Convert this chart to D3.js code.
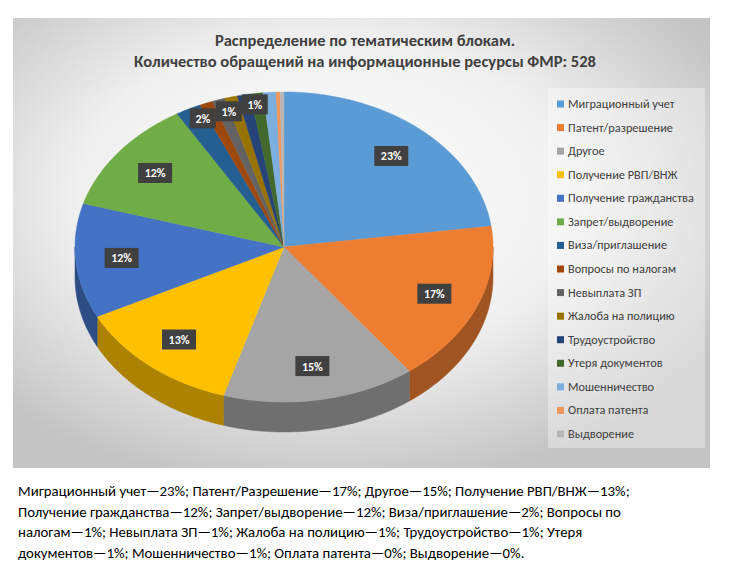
<!DOCTYPE html>
<html><head><meta charset="utf-8">
<script src="https://cdn.jsdelivr.net/npm/d3@7"></script>
<style>body{margin:0;background:#fff;font-family:Calibri,Carlito,"Open Sans",sans-serif}</style>
</head><body><svg id="c" width="730" height="573"></svg>
<script>
var categories = ['Миграционный учет','Патент/разрешение','Другое','Получение РВП/ВНЖ','Получение гражданства','Запрет/выдворение','Виза/приглашение','Вопросы по налогам','Невыплата ЗП','Жалоба на полицию','Трудоустройство','Утеря документов','Мошенничество','Оплата патента','Выдворение'];
var values = [23, 17, 15, 13, 12, 12, 2, 1, 1, 1, 1, 1, 1, 0.3, 0.3];
var shownLabels = ['23%','17%','15%','13%','12%','12%','2%','1%','1%'];
var colors = ['#5B9BD5','#ED7D31','#A5A5A5','#FFC000','#4472C4','#70AD47','#255E91','#9E480E','#636363','#997300','#264478','#43682B','#7CAFDD','#F1975A','#B7B7B7'];
var footer = ['Миграционный учет—23%; Патент/Разрешение—17%; Другое—15%; Получение РВП/ВНЖ—13%;',
 'Получение гражданства—12%; Запрет/выдворение—12%; Виза/приглашение—2%; Вопросы по',
 'налогам—1%; Невыплата ЗП—1%; Жалоба на полицию—1%; Трудоустройство—1%; Утеря',
 'документов—1%; Мошенничество—1%; Оплата патента—0%; Выдворение—0%.'];

var svg = d3.select('#c');
var defs = svg.append('defs');
var g = defs.append('radialGradient').attr('id','bg').attr('cx','45%').attr('cy','40%').attr('r','65%');
g.append('stop').attr('offset','0%').attr('stop-color','#ffffff');
g.append('stop').attr('offset','55%').attr('stop-color','#f0f0f0');
g.append('stop').attr('offset','100%').attr('stop-color','#c4c4c4');
svg.append('rect').attr('x',13).attr('y',18).attr('width',697).attr('height',450).attr('fill','url(#bg)');

svg.append('text').attr('x',365).attr('y',46).attr('text-anchor','middle').attr('font-size',16.5).attr('font-weight','bold').attr('fill','#404040').text('Распределение по тематическим блокам.');
svg.append('text').attr('x',365).attr('y',67).attr('text-anchor','middle').attr('font-size',16.5).attr('font-weight','bold').attr('fill','#404040').text('Количество обращений на информационные ресурсы ФМР: 528');

// 3D pie
var cx = 284, cy = 247, rx = 209, ry = 155, depth = 30;
var arcs = d3.pie().sort(null).startAngle(0).endAngle(2 * Math.PI)(values);
function pt(a, r) { return [cx + rx * r * Math.sin(a), cy - ry * r * Math.cos(a)]; }
function arcPts(a0, a1, r, dy) {
  var n = Math.max(2, Math.ceil((a1 - a0) / 0.02)), p = [];
  for (var i = 0; i <= n; i++) { var q = pt(a0 + (a1 - a0) * i / n, r); p.push([q[0], q[1] + dy]); }
  return p;
}
var line = d3.line();
var pie = svg.append('g');
// side walls (front half only)
arcs.forEach(function(d, i) {
  var a0 = Math.max(d.startAngle, Math.PI / 2), a1 = Math.min(d.endAngle, 3 * Math.PI / 2);
  if (a1 <= a0) return;
  var top = arcPts(a0, a1, 1, 0), bot = arcPts(a0, a1, 1, depth).reverse();
  pie.append('path').attr('d', line(top.concat(bot)) + 'Z')
    .attr('fill', d3.color(colors[i]).darker(1.1)).attr('stroke', d3.color(colors[i]).darker(1.1)).attr('stroke-width', 0.5);
});
// tops
arcs.forEach(function(d, i) {
  var p = [[cx, cy]].concat(arcPts(d.startAngle, d.endAngle, 1, 0));
  pie.append('path').attr('d', line(p) + 'Z').attr('fill', colors[i]).attr('stroke', colors[i]).attr('stroke-width', 0.5);
});
// labels; the small top slices get staggered boxes
var prevX = -Infinity;
arcs.forEach(function(d, i) {
  if (i >= shownLabels.length) return;
  var mid = (d.startAngle + d.endAngle) / 2, q, w = 34;
  if (values[i] < 5) {
    w = 26;
    q = pt(mid, 0.85);
    q[0] = Math.max(q[0], prevX + 26);
    q[1] = cy - ry * 0.83 - (i - 6) * 7;
    prevX = q[0];
  } else q = pt(mid, 0.78);
  var lg = svg.append('g').attr('transform', 'translate(' + q[0] + ',' + q[1] + ')');
  lg.append('rect').attr('x', -w / 2).attr('y', -10).attr('width', w).attr('height', 20).attr('fill', '#404040');
  lg.append('text').attr('text-anchor', 'middle').attr('y', 4.5).attr('font-size', 12).attr('font-weight', 'bold').attr('fill', '#fff').text(shownLabels[i]);
});

// legend
svg.append('rect').attr('x', 548).attr('y', 88).attr('width', 157).attr('height', 360).attr('fill', '#ffffff').attr('opacity', 0.35);
var ly = d3.scalePoint().domain(categories).range([104, 434]);
var leg = svg.append('g').selectAll('g').data(categories).join('g')
  .attr('transform', function(d) { return 'translate(557,' + ly(d) + ')'; });
leg.append('rect').attr('x', 0).attr('y', -3.5).attr('width', 7).attr('height', 7).attr('fill', function(d, i) { return colors[i]; });
leg.append('text').attr('x', 11).attr('y', 4).attr('font-size', 12.3).attr('fill', '#404040').text(function(d) { return d; });

svg.append('g').selectAll('text').data(footer).join('text')
  .attr('x', 18).attr('y', function(d, i) { return 496 + i * 20.5; })
  .attr('font-size', 14.8).attr('fill', '#000').text(function(d) { return d; });
</script></body></html>
